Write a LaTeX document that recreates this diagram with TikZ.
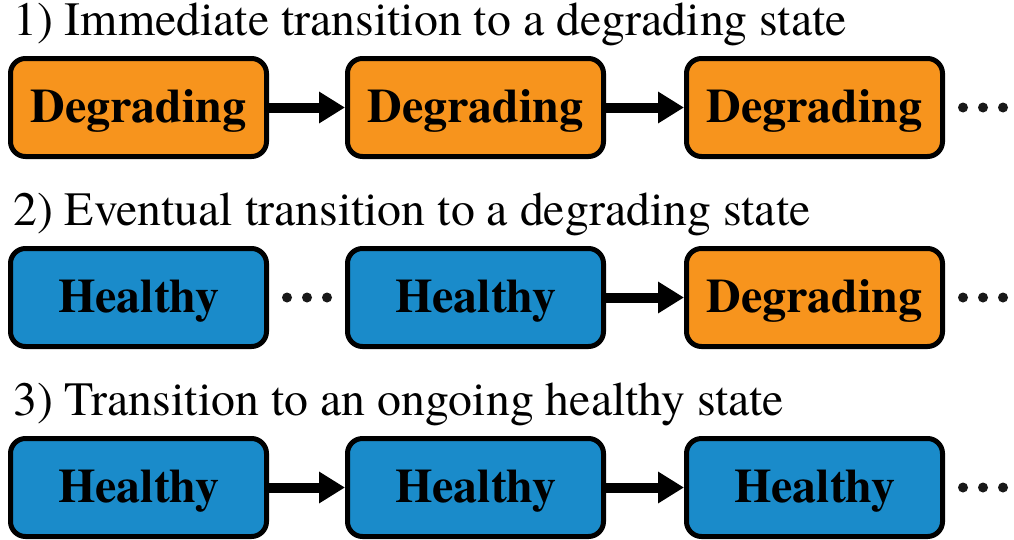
\documentclass[tikz,border=0pt]{standalone}
\usepackage{fontspec}
\setmainfont{texgyretermes}[Extension=.otf, UprightFont=*-regular, BoldFont=*-bold, ItalicFont=*-italic, BoldItalicFont=*-bolditalic]
\usetikzlibrary{arrows.meta}
\definecolor{degrade}{HTML}{F7941D}
\definecolor{healthy}{HTML}{1A8BCA}
\tikzset{
  state/.style={draw=black, line width=5pt, rounded corners=15pt,
    minimum width=256pt, minimum height=98pt, inner sep=0pt,
    text height=31pt, text depth=2pt,
    font=\fontsize{48}{48}\selectfont\bfseries},
  deg/.style={state, fill=degrade},
  hea/.style={state, fill=healthy},
  heading/.style={anchor=base west, inner sep=0pt,
    font=\fontsize{47.8}{48}\selectfont},
  link/.style={line width=10pt, -{Triangle[length=26pt,width=30pt]}},
  dot/.style={circle, fill=black!90, inner sep=0pt, minimum size=10pt}
}
\begin{document}
\begin{tikzpicture}[x=1pt,y=-1pt]
\useasboundingbox (0,0) rectangle (1014,539);

% row 1
\node[heading] (t1) at (13,35) {1) Immediate transition to a degrading state};
\node[deg] (a1) at (138.5,107.5) {Degrading};
\node[deg] (a2) at (475.5,107.5) {Degrading};
\node[deg] (a3) at (814.5,107.5) {Degrading};
\draw[link] (a1) -- (a2);
\draw[link] (a2) -- (a3);
\node[dot] (ae1) at (963,107.5) {};
\node[dot] (ae2) at (983,107.5) {};
\node[dot] (ae3) at (1003,107.5) {};

% row 2
\node[heading] (t2) at (13,225) {2) Eventual transition to a degrading state};
\node[hea] (b1) at (138.5,297.5) {Healthy};
\node[hea] (b2) at (475.5,297.5) {Healthy};
\node[deg] (b3) at (814.5,297.5) {Degrading};
\node[dot] (bm1) at (287,297.5) {};
\node[dot] (bm2) at (307,297.5) {};
\node[dot] (bm3) at (327,297.5) {};
\draw[link] (b2) -- (b3);
\node[dot] (be1) at (963,297.5) {};
\node[dot] (be2) at (983,297.5) {};
\node[dot] (be3) at (1003,297.5) {};

% row 3
\node[heading] (t3) at (13,415) {3) Transition to an ongoing healthy state};
\node[hea] (c1) at (138.5,487.5) {Healthy};
\node[hea] (c2) at (475.5,487.5) {Healthy};
\node[hea] (c3) at (814.5,487.5) {Healthy};
\draw[link] (c1) -- (c2);
\draw[link] (c2) -- (c3);
\node[dot] (ce1) at (963,487.5) {};
\node[dot] (ce2) at (983,487.5) {};
\node[dot] (ce3) at (1003,487.5) {};
\end{tikzpicture}
\end{document}
